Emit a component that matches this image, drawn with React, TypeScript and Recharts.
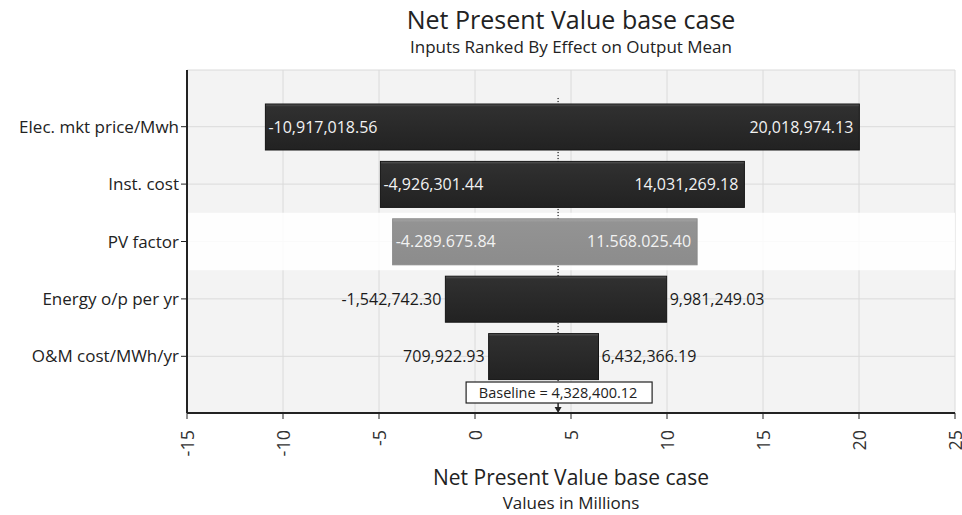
import React from 'react';
import {
  BarChart, Bar, XAxis, YAxis, CartesianGrid, ReferenceLine, ReferenceArea,
} from 'recharts';

const categories = ['Elec. mkt price/Mwh', 'Inst. cost', 'PV factor', 'Energy o/p per yr', 'O&M cost/MWh/yr'];
const lowValues = [-10.91701856, -4.92630144, -4.28967584, -1.5427423, 0.70992293];
const highValues = [20.01897413, 14.03126918, 11.5680254, 9.98124903, 6.43236619];
const lowLabels = ['-10,917,018.56', '-4,926,301.44', '-4.289.675.84', '-1,542,742.30', '709,922.93'];
const highLabels = ['20,018,974.13', '14,031,269.18', '11.568.025.40', '9,981,249.03', '6,432,366.19'];
const xTicks = [-15, -10, -5, 0, 5, 10, 15, 20, 25];
const baseline = 4.32840012;
const baselineText = 'Baseline = 4,328,400.12';
const highlighted = 'PV factor';

const rows = categories.map((name, i) => ({
  name,
  range: [lowValues[i], highValues[i]],
  lowLabel: lowLabels[i],
  highLabel: highLabels[i],
}));

const FONT = '"Open Sans", sans-serif';

const RangeBar = (props: any) => {
  const { x, y, width, height, payload } = props;
  const light = payload.name === highlighted;
  const inside = width > 250;
  const cy = y + height / 2 + 5.5;
  return (
    <g>
      <rect x={x} y={y} width={width} height={height}
        fill={light ? 'url(#lightBar)' : 'url(#darkBar)'}
        stroke={light ? '#8a8a8a' : '#151515'} strokeWidth={1} />
      {inside ? (
        <>
          <text x={x + 3} y={cy} fill="#f2f2f2" fontSize={16} fontFamily={FONT}>{payload.lowLabel}</text>
          <text x={x + width - 6} y={cy} fill="#f2f2f2" fontSize={16} fontFamily={FONT} textAnchor="end">{payload.highLabel}</text>
        </>
      ) : (
        <>
          <text x={x - 4} y={cy} fill="#1a1a1a" fontSize={16} fontFamily={FONT} textAnchor="end">{payload.lowLabel}</text>
          <text x={x + width + 3} y={cy} fill="#1a1a1a" fontSize={16} fontFamily={FONT}>{payload.highLabel}</text>
        </>
      )}
    </g>
  );
};

const XTick = (props: any) => {
  const { x, y, payload } = props;
  return (
    <text x={x} y={y + 9} transform={`rotate(-90 ${x} ${y + 9})`} textAnchor="end"
      dominantBaseline="central" fill="#333" fontSize={18} fontFamily={FONT}>
      {payload.value}
    </text>
  );
};

const BaselineLabel = (props: any) => {
  const { viewBox } = props;
  const cx = viewBox.x;
  const bottom = viewBox.y + viewBox.height;
  return (
    <g>
      <rect x={cx - 92} y={bottom - 31} width={186} height={21} fill="#fff" stroke="#222" strokeWidth={1.2} />
      <text x={cx} y={bottom - 15} textAnchor="middle" fill="#222" fontSize={14.5} fontFamily={FONT}>{baselineText}</text>
      <line x1={cx} y1={bottom - 10} x2={cx} y2={bottom - 3} stroke="#222" strokeWidth={1.5} />
      <path d={`M${cx - 3.5},${bottom - 6} L${cx + 3.5},${bottom - 6} L${cx},${bottom} Z`} fill="#222" />
    </g>
  );
};

export default function App() {
  return (
    <div style={{ position: 'absolute', left: 0, top: 0, width: 962, height: 515, background: '#fff', fontFamily: FONT, lineHeight: 1 }}>
      <div style={{ position: 'absolute', left: 187, width: 768, top: 7, textAlign: 'center', fontSize: 25, color: '#222' }}>
        Net Present Value base case
      </div>
      <div style={{ position: 'absolute', left: 187, width: 768, top: 38, textAlign: 'center', fontSize: 17, color: '#222' }}>
        Inputs Ranked By Effect on Output Mean
      </div>
      <BarChart width={962} height={515} data={rows} layout="vertical"
        margin={{ top: 70, right: 7, bottom: 0, left: 0 }} barSize={46}>
        <defs>
          <linearGradient id="darkBar" x1="0" y1="0" x2="0" y2="1">
            <stop offset="0%" stopColor="#5a5a5a" />
            <stop offset="6%" stopColor="#303030" />
            <stop offset="100%" stopColor="#222" />
          </linearGradient>
          <linearGradient id="lightBar" x1="0" y1="0" x2="0" y2="1">
            <stop offset="0%" stopColor="#a4a4a4" />
            <stop offset="8%" stopColor="#939393" />
            <stop offset="100%" stopColor="#8c8c8c" />
          </linearGradient>
        </defs>
        <CartesianGrid stroke="#dadada" fill="#f3f3f3" />
        <ReferenceArea y1={highlighted} y2={highlighted} fill="#ffffff" fillOpacity={0.85} stroke="none" />
        {/* dotted baseline drawn as a hairline area so it stays behind the bars */}
        <ReferenceArea x1={baseline - 0.002} x2={baseline + 0.002} fill="none"
          stroke="#333" strokeDasharray="1 2" strokeWidth={1} />
        <ReferenceLine x={baseline} stroke="none" label={<BaselineLabel />} />
        <XAxis type="number" domain={[-15, 25]} ticks={xTicks} interval={0}
          tick={<XTick />} tickLine={{ stroke: '#222' }} tickSize={6}
          axisLine={{ stroke: '#222', strokeWidth: 2 }} height={102} />
        <YAxis type="category" dataKey="name" width={187} padding={{ top: 28, bottom: 28 }}
          tick={{ fill: '#222', fontSize: 17, fontFamily: FONT }} tickLine={{ stroke: '#222' }} tickSize={6}
          axisLine={{ stroke: '#222', strokeWidth: 2 }} />
        <Bar dataKey="range" shape={<RangeBar />} isAnimationActive={false} />
      </BarChart>
      <div style={{ position: 'absolute', left: 187, width: 768, top: 467, textAlign: 'center', fontSize: 21, color: '#222' }}>
        Net Present Value base case
      </div>
      <div style={{ position: 'absolute', left: 187, width: 768, top: 494, textAlign: 'center', fontSize: 17, color: '#222' }}>
        Values in Millions
      </div>
    </div>
  );
}
